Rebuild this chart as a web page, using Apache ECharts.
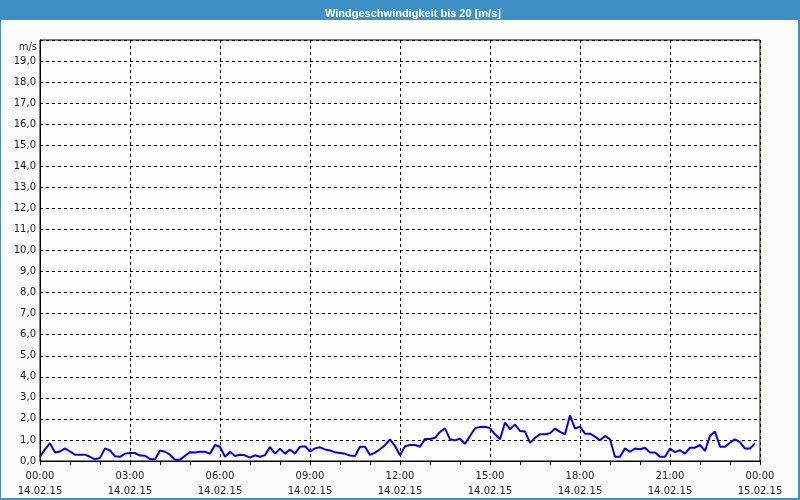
<!DOCTYPE html>
<html>
<head>
<meta charset="utf-8">
<script src="https://cdn.jsdelivr.net/npm/echarts@6/dist/echarts.min.js"></script>
<style>
html,body{margin:0;padding:0;background:#fbfdfb;}
#c{width:800px;height:500px;}
</style>
</head>
<body>
<div id="c"></div>
<script>
const titleText = 'Windgeschwindigkeit bis 20 [m/s]';
const unitLabel = 'm/s';
const timeLabels = ['00:00','03:00','06:00','09:00','12:00','15:00','18:00','21:00','00:00'];
const dateLabels = ['14.02.15','14.02.15','14.02.15','14.02.15','14.02.15','14.02.15','14.02.15','14.02.15','15.02.15'];
// minutes since 14.02.15 00:00
const minutes = [0,10,20,30,40,50,60,70,80,90,100,110,120,130,140,150,160,170,180,190,200,210,220,230,
240,250,260,270,280,290,300,310,320,330,340,350,360,370,380,390,400,410,420,430,440,450,460,470,
480,490,500,510,520,530,540,550,560,570,580,590,600,610,620,630,640,650,660,670,680,690,700,710,
720,730,740,750,760,770,780,790,800,810,820,830,840,850,860,870,880,890,900,910,920,930,940,950,
960,970,980,990,1000,1010,1020,1030,1040,1050,1060,1070,1080,1090,1100,1110,1120,1130,1140,1150,1160,1170,1180,1190,
1200,1210,1220,1230,1240,1250,1260,1270,1280,1290,1300,1310,1320,1330,1340,1350,1360,1370,1380,1390,1400,1410,1420,1430];
const windSpeed = [0.2,0.55,0.85,0.4,0.45,0.6,0.45,0.3,0.3,0.3,0.2,0.08,0.15,0.6,0.5,0.22,0.2,0.35,0.38,0.38,0.26,0.25,0.1,0.08,
0.5,0.44,0.3,0.06,0.06,0.25,0.42,0.4,0.44,0.44,0.35,0.76,0.68,0.2,0.44,0.24,0.3,0.27,0.16,0.27,0.2,0.28,0.66,0.35,
0.59,0.35,0.55,0.36,0.68,0.7,0.45,0.6,0.65,0.55,0.5,0.42,0.38,0.34,0.26,0.24,0.68,0.68,0.29,0.4,0.56,0.75,1.03,0.71,
0.27,0.7,0.76,0.76,0.68,1.05,1.05,1.1,1.38,1.55,1.03,0.98,1.06,0.82,1.19,1.55,1.62,1.63,1.56,1.27,1.03,1.83,1.51,1.73,
1.43,1.4,0.86,1.1,1.27,1.27,1.32,1.54,1.38,1.27,2.17,1.54,1.63,1.3,1.3,1.16,0.98,1.19,1.03,0.2,0.2,0.6,0.44,0.59,
0.56,0.63,0.4,0.4,0.2,0.2,0.59,0.42,0.51,0.35,0.63,0.63,0.76,0.48,1.19,1.4,0.68,0.68,0.87,1.03,0.9,0.59,0.59,0.84];

const chart = echarts.init(document.getElementById('c'), null, {renderer:'canvas'});
const font = 'DejaVu Sans';
chart.setOption({
  animation:false,
  backgroundColor:'#fbfdfb',
  graphic:[
    {type:'rect', z:-1, shape:{x:0,y:0,width:800,height:20}, style:{fill:'#3d8fc6'}},
    {type:'rect', shape:{x:0,y:0,width:1,height:500}, style:{fill:'#3d8fc6'}},
    {type:'rect', shape:{x:798,y:0,width:2,height:500}, style:{fill:'#3d8fc6'}},
    {type:'rect', shape:{x:0,y:498,width:800,height:2}, style:{fill:'#3d8fc6'}}
  ],
  title:{
    text:titleText, left:320, top:3,
    textStyle:{color:'#ffffff', fontFamily:'Liberation Sans', fontWeight:'bold', fontSize:11}
  },
  grid:{left:40,right:40,top:40,bottom:39,show:true,borderColor:'#000',borderWidth:1,backgroundColor:'#fdfefd'},
  xAxis:{
    type:'value', min:0, max:1440, interval:180,
    axisLine:{show:true,lineStyle:{color:'#000',width:1}},
    axisTick:{show:true,length:4,lineStyle:{color:'#000'}},
    minorTick:{show:true,splitNumber:3,length:4,lineStyle:{color:'#000'}},
    splitLine:{show:true,lineStyle:{color:'#000',type:[3,3],width:1}},
    axisLabel:{
      margin:8, color:'#1a1a1a', fontFamily:font, fontSize:10, lineHeight:15,
      formatter:function(v){const i=Math.round(v/180);return timeLabels[i]+'\n'+dateLabels[i];}
    }
  },
  yAxis:{
    type:'value', min:0, max:20, interval:1,
    name:unitLabel, nameLocation:'end', nameGap:-12,
    nameTextStyle:{color:'#1a1a1a', fontFamily:font, fontSize:10, align:'right', padding:[0,3,0,0]},
    axisLine:{show:true,lineStyle:{color:'#000',width:1}},
    axisTick:{show:false},
    splitLine:{show:true,lineStyle:{color:'#000',type:[3,3],width:1}},
    axisLabel:{
      margin:4, color:'#1a1a1a', fontFamily:font, fontSize:10,
      formatter:function(v){return v>=20?'':v.toFixed(1).replace('.',',');}
    }
  },
  series:[{
    type:'line', showSymbol:false, symbol:'none',
    data:minutes.map((m,i)=>[m,windSpeed[i]]),
    lineStyle:{color:'#0000e6',width:2},
    clip:true
  }]
});
</script>
</body>
</html>
